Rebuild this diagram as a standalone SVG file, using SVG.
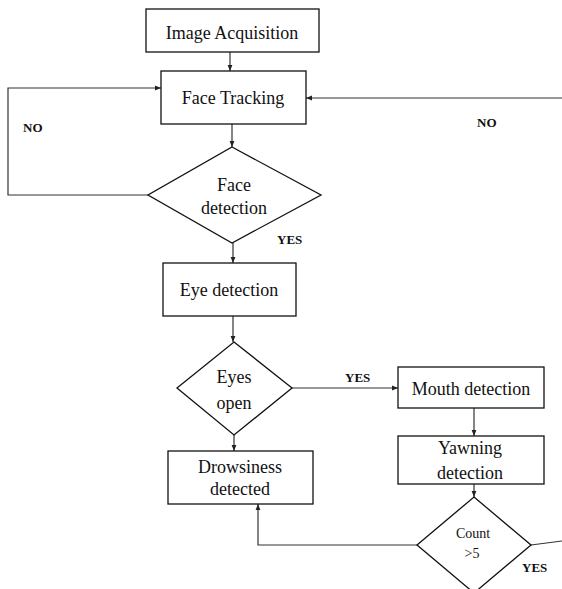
<svg xmlns="http://www.w3.org/2000/svg" width="562" height="589" viewBox="0 0 562 589">
<defs>
<marker id="ah" viewBox="0 0 10 10" refX="10" refY="5" markerWidth="6" markerHeight="6" orient="auto" markerUnits="userSpaceOnUse">
<path d="M0,1 L10,5 L0,9 Z" fill="#222"/>
</marker>
<style>
.box{fill:#fff;stroke:#111;stroke-width:1.3}
.t{font-family:"Liberation Serif","Times New Roman",serif;font-size:18px;fill:#111;text-anchor:middle}
.ts{font-family:"Liberation Serif","Times New Roman",serif;font-size:14px;fill:#111;text-anchor:middle}
.lb{font-family:"Liberation Serif","Times New Roman",serif;font-size:13px;font-weight:bold;fill:#111}
.c{fill:none;stroke:#333;stroke-width:1.2}
</style>
</defs>
<rect width="562" height="589" fill="#fff"/>
<g id="connectors">
<line class="c" x1="230" y1="52" x2="230" y2="71" marker-end="url(#ah)"/>
<polyline class="c" points="148,195 8,195 8,88 161,88" marker-end="url(#ah)"/>
<line class="c" x1="562" y1="98" x2="306" y2="98" marker-end="url(#ah)"/>
<line class="c" x1="232" y1="124" x2="232" y2="147" marker-end="url(#ah)"/>
<line class="c" x1="233" y1="243" x2="233" y2="263" marker-end="url(#ah)"/>
<line class="c" x1="233" y1="316" x2="233" y2="342" marker-end="url(#ah)"/>
<line class="c" x1="292" y1="388" x2="398" y2="388" marker-end="url(#ah)"/>
<line class="c" x1="234" y1="435" x2="234" y2="451" marker-end="url(#ah)"/>
<line class="c" x1="474" y1="408" x2="474" y2="436" marker-end="url(#ah)"/>
<line class="c" x1="474" y1="484" x2="474" y2="497" marker-end="url(#ah)"/>
<polyline class="c" points="417,545 258,545 258,504" marker-end="url(#ah)"/>
<line class="c" x1="531" y1="545" x2="562" y2="541"/>
<text class="lb" x="23" y="132">NO</text>
<text class="lb" x="477" y="127">NO</text>
<text class="lb" x="277" y="244">YES</text>
<text class="lb" x="345" y="382">YES</text>
<text class="lb" x="522" y="572">YES</text>
</g>
<g id="image-acquisition">
<rect class="box" x="146" y="9" width="173" height="43"/>
<text class="t" x="232" y="39">Image Acquisition</text>
</g>
<g id="face-tracking">
<rect class="box" x="161" y="71" width="145" height="53"/>
<text class="t" x="233" y="104">Face Tracking</text>
</g>
<g id="face-detection">
<polygon class="box" points="232,147 321,195 232,243 148,195"/>
<text class="t" x="234" y="191">Face</text>
<text class="t" x="234" y="214">detection</text>
</g>
<g id="eye-detection">
<rect class="box" x="163" y="263" width="133" height="53"/>
<text class="t" x="229" y="296">Eye detection</text>
</g>
<g id="eyes-open">
<polygon class="box" points="234,342 292,388 234,435 177,388"/>
<text class="t" x="234" y="383">Eyes</text>
<text class="t" x="234" y="409">open</text>
</g>
<g id="mouth-detection">
<rect class="box" x="398" y="367" width="146" height="41"/>
<text class="t" x="471" y="395">Mouth detection</text>
</g>
<g id="yawning-detection">
<rect class="box" x="398" y="436" width="146" height="48"/>
<text class="t" x="470" y="454">Yawning</text>
<text class="t" x="470" y="479">detection</text>
</g>
<g id="count">
<polygon class="box" points="474,497 531,545 474,593 417,545"/>
<text class="ts" x="473" y="538">Count</text>
<text class="ts" x="472" y="558">&gt;5</text>
</g>
<g id="drowsiness-detected">
<rect class="box" x="168" y="451" width="145" height="53"/>
<text class="t" x="240" y="473">Drowsiness</text>
<text class="t" x="240" y="495">detected</text>
</g>
</svg>
